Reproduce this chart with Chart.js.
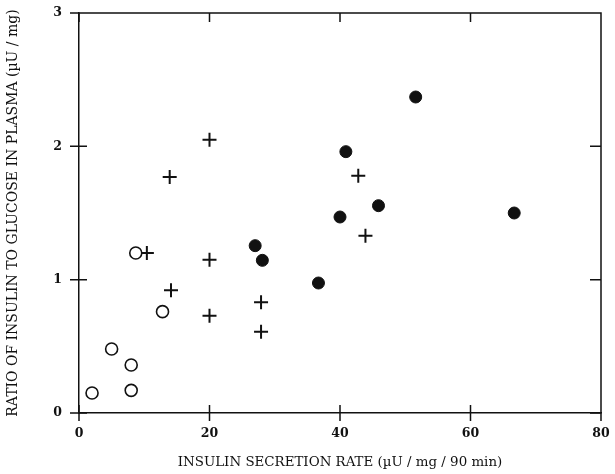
<!DOCTYPE html>
<html>
<head>
<meta charset="utf-8">
<script src="https://cdn.jsdelivr.net/npm/chart.js@4/dist/chart.umd.min.js"></script>
<style>
  html, body { margin: 0; padding: 0; background: #fff; }
  #wrap { width: 615px; height: 474px; }
</style>
</head>
<body>
<div id="wrap"><canvas id="myChart"></canvas></div>
<script>
// Open circles
const openX = [2, 5, 8, 8, 12.8, 8.7];
const openY = [0.15, 0.48, 0.36, 0.17, 0.76, 1.2];
// Crosses
const crossX = [10.4, 14.1, 20, 20, 27.9, 27.9, 20, 13.9, 42.8, 43.9];
const crossY = [1.2, 0.92, 1.15, 0.73, 0.83, 0.61, 2.05, 1.77, 1.78, 1.33];
// Filled circles
const filledX = [51.6, 40.9, 45.9, 40, 66.7, 27, 28.1, 36.7];
const filledY = [2.37, 1.96, 1.555, 1.47, 1.5, 1.255, 1.145, 0.975];

const xTicks = [0, 20, 40, 60, 80];
const yTicks = [0, 1, 2, 3];

function toPoints(xs, ys) {
    return xs.map((x, i) => ({ x: x, y: ys[i] }));
}

const ink = '#111';
const serif = "'DejaVu Serif', 'Liberation Serif', serif";

// inner / crossing tick marks plus top and right frame
const frameTicks = {
    id: 'frameTicks',
    afterDraw(chart) {
        const { ctx, chartArea: a, scales: { x, y } } = chart;
        ctx.save();
        ctx.strokeStyle = ink;
        ctx.lineWidth = 1.5;
        ctx.beginPath();
        ctx.moveTo(a.left, a.top);
        ctx.lineTo(a.right, a.top);
        ctx.lineTo(a.right, a.bottom);
        xTicks.forEach(v => {
            const px = x.getPixelForValue(v);
            ctx.moveTo(px, a.bottom - 8);
            ctx.lineTo(px, a.bottom + 8);
            ctx.moveTo(px, a.top);
            ctx.lineTo(px, a.top + 9);
        });
        yTicks.forEach(v => {
            const py = y.getPixelForValue(v);
            ctx.moveTo(a.left - 9, py);
            ctx.lineTo(a.left + 8, py);
            ctx.moveTo(a.right - 11, py);
            ctx.lineTo(a.right, py);
        });
        ctx.stroke();
        ctx.restore();
    }
};

const data = {
    datasets: [{
        label: 'open',
        data: toPoints(openX, openY),
        pointStyle: 'circle',
        pointRadius: 6,
        pointBorderWidth: 1.6,
        pointBorderColor: ink,
        pointBackgroundColor: '#fff'
    }, {
        label: 'cross',
        data: toPoints(crossX, crossY),
        pointStyle: 'cross',
        pointRadius: 7,
        pointBorderWidth: 2,
        pointBorderColor: ink
    }, {
        label: 'filled',
        data: toPoints(filledX, filledY),
        pointStyle: 'circle',
        pointRadius: 6,
        pointBorderWidth: 1,
        pointBorderColor: ink,
        pointBackgroundColor: ink
    }]
};

const config = {
    type: 'scatter',
    data: data,
    plugins: [frameTicks],
    options: {
        responsive: true,
        maintainAspectRatio: false,
        animation: false,
        layout: { padding: { left: 0, right: 14, top: 13, bottom: 0 } },
        plugins: { legend: { display: false }, tooltip: { enabled: false } },
        scales: {
            x: {
                type: 'linear',
                min: 0,
                max: 80,
                afterBuildTicks: s => { s.ticks = xTicks.map(v => ({ value: v })); },
                afterFit: s => { s.height = 61; s.paddingLeft = 0; s.paddingRight = 0; },
                grid: { display: false },
                border: { color: ink, width: 1.5 },
                ticks: { color: ink, padding: 5, font: { family: serif, size: 12.5, weight: 'bold' } },
                title: {
                    display: true,
                    text: 'INSULIN SECRETION RATE (\u00b5U / mg / 90 min)',
                    color: ink,
                    padding: { top: 0, bottom: 3 },
                    font: { family: serif, size: 13.4 }
                }
            },
            y: {
                type: 'linear',
                min: 0,
                max: 3,
                afterBuildTicks: s => { s.ticks = yTicks.map(v => ({ value: v })); },
                afterFit: s => { s.width = 79; s.paddingTop = 0; s.paddingBottom = 0; },
                grid: { display: false },
                border: { color: ink, width: 1.5 },
                ticks: { color: ink, padding: 9, font: { family: serif, size: 12.5, weight: 'bold' } },
                title: {
                    display: true,
                    text: 'RATIO OF INSULIN TO GLUCOSE IN PLASMA (\u00b5U / mg)',
                    color: ink,
                    padding: { top: 5, bottom: 0 },
                    font: { family: serif, size: 14 }
                }
            }
        }
    }
};

const myChart = new Chart(document.getElementById('myChart'), config);
</script>
</body>
</html>
